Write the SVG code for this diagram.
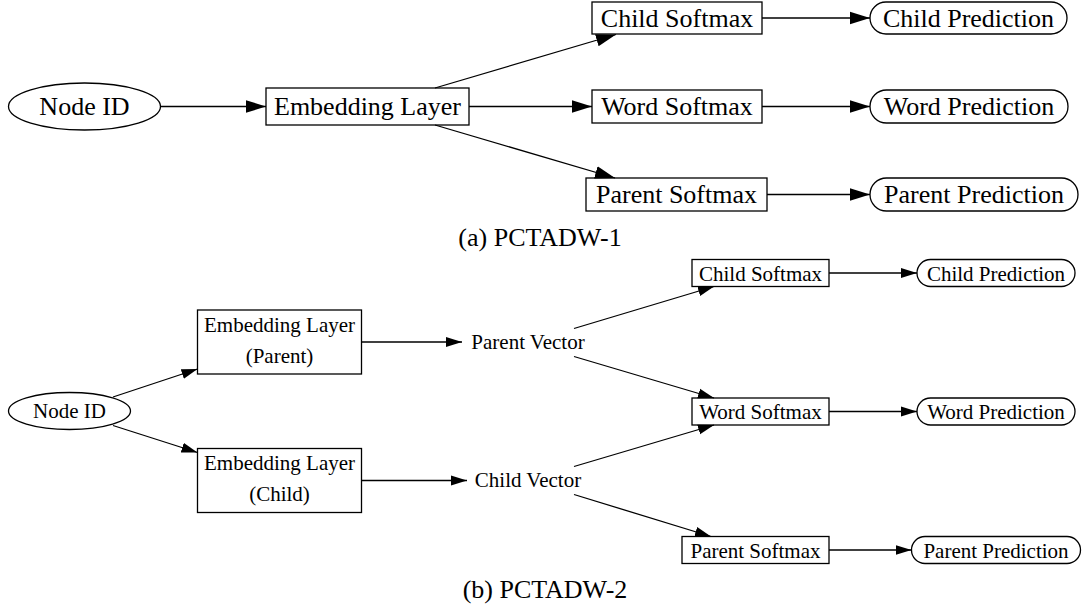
<svg xmlns="http://www.w3.org/2000/svg" width="1085" height="611" viewBox="0 0 1085 611">
<defs>
<marker id="ah" markerUnits="userSpaceOnUse" markerWidth="21" markerHeight="14" refX="20" refY="7" orient="auto">
<path d="M0,0.7 L20,7 L0,13.3 z" fill="#000"/>
</marker>
<marker id="ahs" markerUnits="userSpaceOnUse" markerWidth="17" markerHeight="11" refX="16" refY="5.5" orient="auto">
<path d="M0,0.5 L16,5.5 L0,10.5 z" fill="#000"/>
</marker>
<style>
.n{fill:#fff;stroke:#000;stroke-width:1.3}
.e{fill:none;stroke:#000;stroke-width:1.3}
.ta{font-family:"Liberation Serif","Times New Roman",serif;font-size:26px;text-anchor:middle;fill:#000}
.tb{font-family:"Liberation Serif","Times New Roman",serif;font-size:21px;text-anchor:middle;fill:#000}
.ea{marker-end:url(#ah)}
.eb{marker-end:url(#ahs)}
</style>
</defs>
<rect width="1085" height="611" fill="#fff"/>
<!-- Part (a) -->
<g id="a_nodeid"><ellipse class="n" cx="84.5" cy="106.5" rx="76" ry="23.5"/><text class="ta" x="84.5" y="115">Node ID</text></g>
<g id="a_emb"><rect class="n" x="266" y="88" width="203" height="37"/><text class="ta" x="367.5" y="115">Embedding Layer</text></g>
<g id="a_childsm"><rect class="n" x="592" y="2" width="170" height="32"/><text class="ta" x="677" y="26.5">Child Softmax</text></g>
<g id="a_wordsm"><rect class="n" x="592" y="90" width="170" height="33"/><text class="ta" x="677" y="115">Word Softmax</text></g>
<g id="a_parentsm"><rect class="n" x="586" y="178" width="181" height="33"/><text class="ta" x="676.5" y="203">Parent Softmax</text></g>
<g id="a_childpred"><rect class="n" x="870" y="2" width="197" height="32" rx="16"/><text class="ta" x="968.5" y="26.5">Child Prediction</text></g>
<g id="a_wordpred"><rect class="n" x="870" y="90" width="198" height="33" rx="16.5"/><text class="ta" x="969" y="115">Word Prediction</text></g>
<g id="a_parentpred"><rect class="n" x="870" y="178" width="208" height="33" rx="16.5"/><text class="ta" x="974" y="203">Parent Prediction</text></g>
<g id="a_edges">
<line class="e ea" x1="161" y1="106.5" x2="266" y2="106.5"/>
<line class="e ea" x1="435" y1="88" x2="616" y2="34.5"/>
<line class="e ea" x1="469" y1="106.5" x2="592" y2="106.5"/>
<line class="e ea" x1="435" y1="125" x2="615" y2="178"/>
<line class="e ea" x1="762" y1="18" x2="870" y2="18"/>
<line class="e ea" x1="762" y1="106.5" x2="870" y2="106.5"/>
<line class="e ea" x1="767" y1="194.5" x2="870" y2="194.5"/>
</g>
<text id="cap_a" class="ta" x="540" y="246">(a) PCTADW-1</text>
<!-- Part (b) -->
<g id="b_nodeid"><ellipse class="n" cx="69.5" cy="411" rx="61" ry="18.5"/><text class="tb" x="69.5" y="418">Node ID</text></g>
<g id="b_embp"><rect class="n" x="197.5" y="310" width="164" height="64"/><text class="tb" x="279.5" y="332">Embedding Layer</text><text class="tb" x="279.5" y="363">(Parent)</text></g>
<g id="b_embc"><rect class="n" x="197.5" y="448.5" width="164" height="64"/><text class="tb" x="279.5" y="470">Embedding Layer</text><text class="tb" x="279.5" y="501">(Child)</text></g>
<g id="b_pvec"><text class="tb" x="528" y="349">Parent Vector</text></g>
<g id="b_cvec"><text class="tb" x="528" y="487">Child Vector</text></g>
<g id="b_childsm"><rect class="n" x="692" y="259.5" width="137" height="27"/><text class="tb" x="760.5" y="280.5">Child Softmax</text></g>
<g id="b_wordsm"><rect class="n" x="692" y="398" width="137" height="27"/><text class="tb" x="760.5" y="419">Word Softmax</text></g>
<g id="b_parentsm"><rect class="n" x="682" y="536.5" width="147" height="27"/><text class="tb" x="755.5" y="557.5">Parent Softmax</text></g>
<g id="b_childpred"><rect class="n" x="917" y="259.5" width="158" height="27" rx="13.5"/><text class="tb" x="996" y="280.5">Child Prediction</text></g>
<g id="b_wordpred"><rect class="n" x="917" y="398" width="158" height="27" rx="13.5"/><text class="tb" x="996" y="419">Word Prediction</text></g>
<g id="b_parentpred"><rect class="n" x="911.5" y="536.5" width="169" height="27" rx="13.5"/><text class="tb" x="996" y="557.5">Parent Prediction</text></g>
<g id="b_edges">
<line class="e eb" x1="113" y1="397" x2="197.5" y2="369"/>
<line class="e eb" x1="113" y1="425.5" x2="197.5" y2="452.5"/>
<line class="e eb" x1="361.5" y1="342" x2="462" y2="342"/>
<line class="e eb" x1="361.5" y1="480.5" x2="467" y2="480.5"/>
<line class="e eb" x1="574" y1="328.5" x2="714" y2="286.5"/>
<line class="e eb" x1="574" y1="356.5" x2="714" y2="398"/>
<line class="e eb" x1="574" y1="466.5" x2="714" y2="425"/>
<line class="e eb" x1="574" y1="494.5" x2="711" y2="536.5"/>
<line class="e eb" x1="829" y1="273" x2="917" y2="273"/>
<line class="e eb" x1="829" y1="411.5" x2="917" y2="411.5"/>
<line class="e eb" x1="829" y1="550" x2="911.5" y2="550"/>
</g>
<text id="cap_b" class="ta" x="545" y="598">(b) PCTADW-2</text>
</svg>
